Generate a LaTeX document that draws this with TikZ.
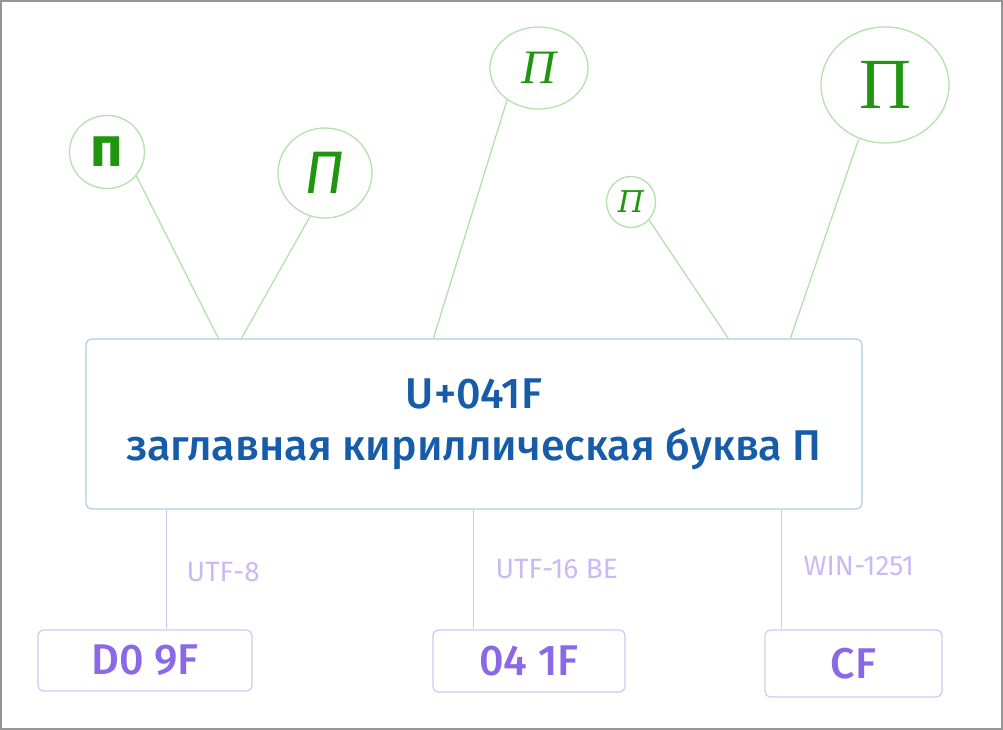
\documentclass[tikz,border=0pt]{standalone}
\usepackage{fontspec}
\setmainfont{Fira Sans}
\newfontfamily\medfont{Fira Sans Medium}
\newfontfamily\romanfont{Liberation Serif}
\newfontfamily\calfont{DejaVu Serif}
\usetikzlibrary{shapes.geometric, positioning, calc}

\definecolor{glyphgreen}{RGB}{32,150,16}
\definecolor{ringgreen}{RGB}{180,224,172}
\definecolor{codeblue}{RGB}{22,92,168}
\definecolor{boxblue}{RGB}{172,204,228}
\definecolor{lilac}{RGB}{210,198,246}
\definecolor{lilactext}{RGB}{200,186,246}
\definecolor{bytepurple}{RGB}{138,104,230}
\definecolor{framegray}{RGB}{150,150,150}

\begin{document}
\begin{tikzpicture}[
  x=1pt, y=-1pt,
  ring/.style={
    ellipse,
    draw=ringgreen,
    line width=1.3pt,
    inner sep=0pt,
    text=glyphgreen,
  },
  stem/.style={
    ringgreen,
    line width=1.3pt,
  },
  codebox/.style={
    rounded corners=6pt,
    draw=boxblue,
    line width=1.2pt,
    align=center,
    text=codeblue,
    font=\medfont\fontsize{43}{52}\selectfont,
  },
  bytebox/.style={
    rounded corners=6pt,
    draw=lilac,
    line width=1.2pt,
    text=bytepurple,
    font=\medfont\fontsize{43}{43}\selectfont,
  },
  wire/.style={
    lilac,
    line width=1.2pt,
  },
  enc/.style={
    anchor=west,
    text=lilactext,
    font=\fontsize{28}{28}\selectfont,
  },
]
\useasboundingbox (0,0) rectangle (1003,730);
\draw[framegray, line width=2pt] (1,1) rectangle (1002,729);

% ============================================================
% CODE POINT
% ============================================================
\node[codebox, minimum width=776pt, minimum height=170pt]
  (code) at (474,424) {U+041F\\заглавная кириллическая буква П};

% ============================================================
% GLYPH VARIANTS (top)
% ============================================================
\node[ring, minimum width=75pt, minimum height=73pt,
      font=\bfseries\fontsize{56}{56}\selectfont]
  (sansbold) at (107,152) {п};
\node[ring, minimum width=94pt, minimum height=90pt,
      font=\itshape\fontsize{60}{60}\selectfont]
  (sansital) at (325,173) {П};
\node[ring, minimum width=98pt, minimum height=82pt,
      font=\romanfont\itshape\fontsize{48}{48}\selectfont]
  (serifital) at (539,68) {П};
\node[ring, minimum width=49pt, minimum height=51pt,
      font=\calfont\itshape\fontsize{30}{30}\selectfont]
  (script) at (631,202) {П};
\node[ring, minimum width=128pt, minimum height=116pt,
      font=\romanfont\fontsize{72}{72}\selectfont]
  (serif) at (885,85) {П};

\draw[stem] (sansbold.-39)  -- ([xshift=133pt]code.north west);
\draw[stem] (sansital.-109) -- ([xshift=156pt]code.north west);
\draw[stem] (serifital.-135)-- ([xshift=348pt]code.north west);
\draw[stem] (script.-45)    -- ([xshift=643pt]code.north west);
\draw[stem] (serif.-116)    -- ([xshift=705pt]code.north west);

% ============================================================
% ENCODINGS (bottom)
% ============================================================
\node[bytebox, minimum width=214pt, minimum height=61pt]
  (utf8) at (145,660.5) {D0 9F};
\node[bytebox, minimum width=192pt, minimum height=62pt]
  (utf16) at (529,661) {04 1F};
\node[bytebox, minimum width=177pt, minimum height=67pt]
  (win) at (853.5,663.5) {CF};

\draw[wire] ([xshift=81pt]code.south west)
  -- ([xshift=81pt]code.south west |- utf8.north);
\draw[wire] ([xshift=388pt]code.south west)
  -- ([xshift=388pt]code.south west |- utf16.north);
\draw[wire] ([xshift=696pt]code.south west)
  -- ([xshift=696pt]code.south west |- win.north);

\node[enc] (utf8lbl)  at (183,572) {UTF-8};
\node[enc] (utf16lbl) at (492,569) {UTF-16 BE};
\node[enc] (winlbl)   at (800,566) {WIN-1251};

\end{tikzpicture}
\end{document}
